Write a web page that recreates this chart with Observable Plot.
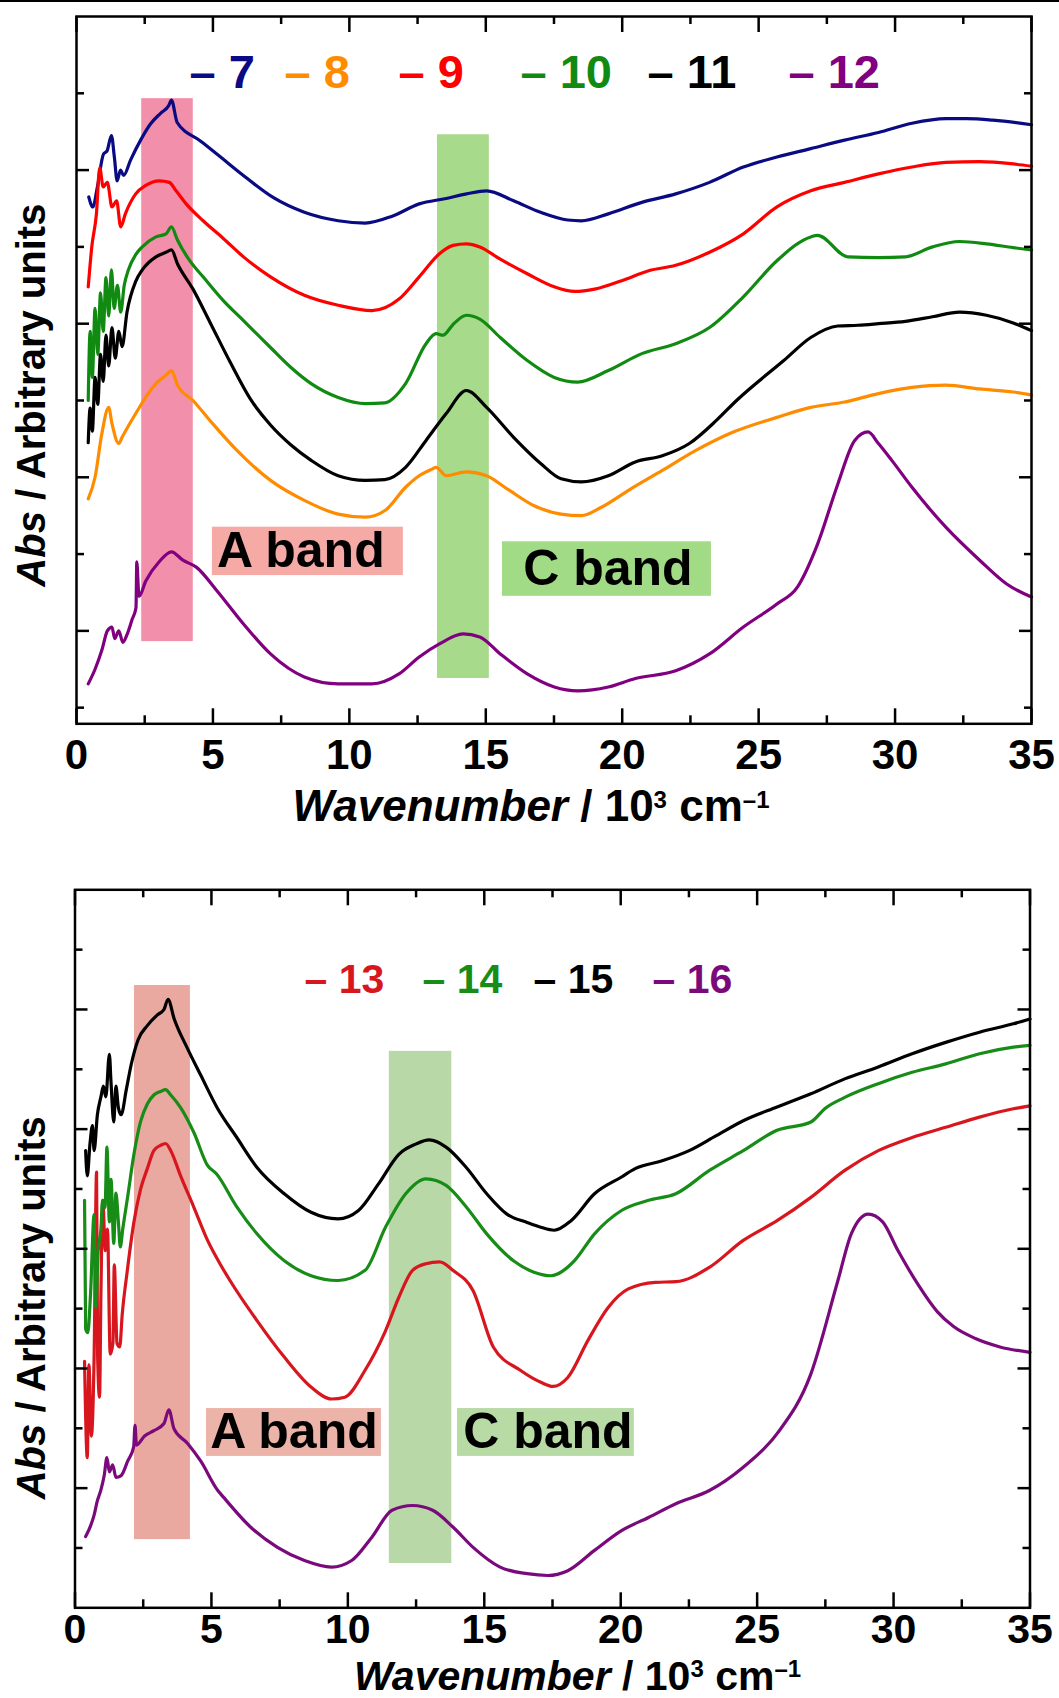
<!DOCTYPE html>
<html><head><meta charset="utf-8">
<script src="https://cdn.jsdelivr.net/npm/d3@7"></script>
<script src="https://cdn.jsdelivr.net/npm/@observablehq/plot@0.6"></script>
<style>
body{margin:0;background:#fff;}
#wrap{position:relative;width:1059px;height:1698px;overflow:hidden;background:#fff;}
#topline{position:absolute;left:0;top:0;width:1059px;height:2px;background:#000;z-index:2;}
svg{display:block;}
</style></head><body><div id="wrap"><div id="topline"></div><div id="p1"></div><div id="p2"></div></div>
<script>
// ---------- shared axis values ----------
const xMajor = [0, 5, 10, 15, 20, 25, 30, 35];
const xMinor = [2.5, 7.5, 12.5, 17.5, 22.5, 27.5, 32.5];

// ---------- upper panel: spectra 7–12 ----------
const names1 = ["7", "8", "9", "10", "11", "12"];
const colors1 = ["#0a0a82", "#ff8c00", "#ff0000", "#118a11", "#000000", "#800080"];
const yMajor1 = [2, 4, 6, 8];
const yMinor1 = [1, 3, 5, 7, 9];

const s7 = [[0.45,7.65],[0.6,7.52],[0.76,7.77],[0.99,8.21],[1.12,8.25],[1.28,8.45],[1.39,8.16],[1.49,7.86],[1.61,8.0],[1.73,7.93],[1.98,8.13],[2.35,8.39],[2.71,8.6],[3.08,8.74],[3.38,8.84],[3.48,8.91],[3.69,8.62],[4.54,8.38],[5.28,8.17],[6.01,7.96],[7.22,7.64],[8.35,7.45],[9.59,7.34],[10.58,7.31],[11.57,7.40],[12.56,7.56],[13.55,7.63],[14.29,7.69],[15.03,7.73],[16.02,7.60],[17.01,7.45],[18.0,7.35],[18.5,7.34],[19.49,7.43],[20.72,7.58],[21.96,7.69],[23.2,7.84],[24.44,8.04],[25.67,8.17],[26.91,8.28],[28.15,8.39],[29.39,8.49],[30.62,8.61],[31.86,8.67],[32.6,8.67],[33.59,8.65],[35.0,8.59]];
const s8 = [[0.43,3.72],[0.68,4.0],[0.93,4.57],[1.18,4.91],[1.30,4.70],[1.55,4.44],[1.67,4.52],[2.17,4.83],[2.91,5.22],[3.28,5.33],[3.48,5.39],[3.7,5.2],[4.27,5.0],[4.89,4.74],[5.88,4.35],[7.11,3.96],[8.35,3.70],[9.59,3.52],[10.58,3.48],[11.32,3.57],[12.06,3.87],[12.56,4.02],[13.05,4.11],[13.18,4.13],[13.55,4.02],[14.29,4.07],[15.03,4.02],[15.78,3.85],[16.77,3.63],[17.76,3.52],[18.50,3.50],[19.24,3.61],[20.23,3.83],[21.47,4.09],[22.70,4.35],[23.94,4.57],[25.67,4.78],[26.91,4.91],[28.15,4.98],[29.39,5.09],[30.62,5.17],[31.86,5.20],[33.10,5.15],[34.33,5.11],[35.0,5.07]];
const s9 = [[0.43,6.48],[0.56,7.0],[0.73,7.43],[0.85,8.03],[0.98,7.78],[1.13,7.84],[1.30,7.52],[1.47,7.60],[1.62,7.26],[1.79,7.43],[2.17,7.69],[2.54,7.80],[3.03,7.86],[3.40,7.84],[3.65,7.73],[4.02,7.56],[4.64,7.34],[5.38,7.11],[6.12,6.87],[7.11,6.61],[8.35,6.37],[9.59,6.24],[10.83,6.17],[11.82,6.32],[12.56,6.61],[13.30,6.91],[13.80,7.02],[14.29,7.04],[14.78,7.00],[15.53,6.84],[16.52,6.65],[17.51,6.48],[18.25,6.42],[18.99,6.45],[19.98,6.56],[20.97,6.69],[21.96,6.76],[23.2,6.93],[24.44,7.17],[25.67,7.52],[26.91,7.73],[28.15,7.84],[29.39,7.95],[30.62,8.04],[31.86,8.10],[33.10,8.11],[34.33,8.08],[35.0,8.05]];
const s10 = [[0.43,5.0],[0.5,5.9],[0.58,5.3],[0.68,6.2],[0.78,5.6],[0.88,6.4],[0.98,5.9],[1.08,6.6],[1.18,6.1],[1.28,6.7],[1.38,6.2],[1.5,6.5],[1.62,6.15],[1.75,6.5],[1.9,6.7],[2.17,6.9],[2.41,7.0],[2.91,7.13],[3.28,7.17],[3.48,7.26],[3.70,7.09],[4.15,6.82],[4.64,6.61],[5.38,6.30],[6.12,6.04],[7.11,5.69],[7.86,5.43],[8.60,5.22],[9.59,5.04],[10.6,4.96],[11.3,4.97],[12.06,5.22],[12.81,5.74],[13.18,5.87],[13.43,5.85],[13.80,5.99],[14.29,6.11],[14.78,6.06],[15.53,5.82],[16.52,5.52],[17.51,5.30],[18.37,5.24],[19.49,5.39],[20.72,5.61],[21.96,5.74],[23.2,5.95],[24.44,6.35],[25.67,6.82],[26.91,7.13],[27.16,7.15],[28.27,6.87],[29.39,6.86],[30.38,6.87],[31.37,7.00],[32.36,7.07],[33.35,7.04],[34.33,6.99],[35.0,6.96]];
const s11 = [[0.43,4.45],[0.5,4.9],[0.58,4.6],[0.68,5.3],[0.78,4.95],[0.88,5.6],[0.98,5.25],[1.08,5.85],[1.18,5.45],[1.3,5.95],[1.42,5.55],[1.55,5.9],[1.67,5.7],[1.85,6.15],[2.17,6.55],[2.41,6.7],[2.91,6.87],[3.28,6.93],[3.48,6.96],[3.70,6.78],[4.27,6.45],[4.89,6.02],[5.63,5.5],[6.37,5.02],[7.11,4.68],[7.86,4.42],[8.60,4.22],[9.59,4.02],[10.58,3.96],[11.3,3.97],[12.06,4.13],[12.81,4.48],[13.55,4.83],[14.29,5.13],[15.03,4.91],[16.02,4.52],[17.01,4.18],[17.76,3.98],[18.50,3.94],[19.49,4.02],[20.48,4.20],[21.47,4.28],[22.46,4.44],[23.45,4.74],[24.19,5.0],[25.92,5.52],[26.91,5.82],[27.90,5.97],[28.64,5.98],[29.39,6.00],[30.38,6.03],[31.37,6.09],[32.36,6.15],[33.35,6.11],[34.33,6.01],[35.0,5.91]];
const s12 = [[0.43,1.31],[0.68,1.5],[0.93,1.75],[1.13,2.0],[1.30,2.05],[1.40,1.9],[1.55,2.0],[1.70,1.85],[1.85,1.95],[2.04,2.15],[2.18,2.3],[2.21,2.9],[2.29,2.45],[2.54,2.65],[3.03,2.9],[3.48,3.03],[3.90,2.92],[4.39,2.83],[5.13,2.53],[6.12,2.09],[7.11,1.70],[8.35,1.40],[9.59,1.31],[10.83,1.31],[11.82,1.44],[12.56,1.66],[13.30,1.83],[14.17,1.96],[14.78,1.92],[15.53,1.70],[16.52,1.44],[17.51,1.27],[18.37,1.22],[19.49,1.27],[20.48,1.38],[21.96,1.48],[23.2,1.70],[24.44,2.05],[25.67,2.35],[26.42,2.57],[27.16,3.13],[27.90,3.91],[28.52,4.48],[29.01,4.59],[29.39,4.44],[29.88,4.22],[30.62,3.87],[31.86,3.35],[33.10,2.92],[34.09,2.61],[35.0,2.44]];

// wavenumber ranges of the highlighted bands (10^3 cm^-1)
const bandNames = ["A band", "C band"];
const bandRange1 = [[2.39, 4.28], [13.23, 15.13]];

// ---------- lower panel: spectra 13–16 ----------
const names2 = ["13", "14", "15", "16"];
const colors2 = ["#d8161e", "#178c17", "#000000", "#7a0a7c"];
const yMajor2 = [2, 4, 6, 8, 10];
const yMinor2 = [1, 3, 5, 7, 9, 11];

const s13 = [[0.35,4.12],[0.45,2.51],[0.51,4.06],[0.60,2.87],[0.70,4.18],[0.79,7.28],[0.83,4.18],[0.90,3.52],[0.95,5.25],[1.02,6.81],[1.11,5.97],[1.19,6.33],[1.29,4.24],[1.39,4.42],[1.44,5.73],[1.54,4.42],[1.64,4.36],[1.73,4.90],[1.91,5.61],[2.16,6.45],[2.40,6.99],[2.65,7.34],[2.89,7.64],[3.14,7.73],[3.32,7.76],[3.51,7.64],[3.87,7.22],[4.36,6.69],[4.85,6.15],[5.34,5.73],[5.68,5.47],[6.67,4.80],[7.67,4.19],[8.65,3.69],[9.40,3.49],[9.89,3.52],[10.63,3.97],[11.38,4.63],[11.87,5.19],[12.37,5.64],[12.86,5.75],[13.36,5.78],[13.85,5.64],[14.59,5.30],[15.33,4.36],[16.32,3.97],[17.07,3.77],[17.51,3.70],[18.06,3.85],[18.80,4.47],[19.54,5.02],[20.28,5.33],[21.27,5.44],[22.02,5.45],[23.25,5.69],[24.49,6.14],[25.73,6.47],[26.97,6.86],[28.21,7.31],[29.44,7.64],[30.68,7.86],[31.91,8.03],[33.15,8.20],[34.39,8.34],[35.0,8.39]];
const s14 = [[0.35,6.81],[0.39,4.66],[0.47,4.60],[0.57,5.25],[0.70,6.57],[0.76,5.02],[0.85,5.97],[0.95,6.33],[1.01,6.81],[1.10,6.69],[1.17,7.70],[1.26,6.45],[1.32,7.16],[1.42,6.09],[1.50,6.93],[1.59,6.45],[1.66,6.03],[1.75,6.33],[1.93,6.87],[2.16,7.58],[2.40,8.12],[2.65,8.42],[2.89,8.57],[3.14,8.63],[3.32,8.66],[3.51,8.57],[3.87,8.36],[4.36,7.94],[4.85,7.40],[5.19,7.25],[5.93,6.70],[6.67,6.25],[7.67,5.80],[8.65,5.55],[9.64,5.47],[10.63,5.64],[11.38,6.36],[12.12,6.92],[12.86,7.17],[13.60,7.06],[14.34,6.70],[15.09,6.25],[16.07,5.80],[16.82,5.61],[17.44,5.55],[18.30,5.80],[19.04,6.25],[20.03,6.64],[21.02,6.81],[22.02,6.92],[23.25,7.31],[24.49,7.64],[25.73,7.98],[26.97,8.12],[27.5,8.35],[28.21,8.53],[29.44,8.76],[30.68,8.95],[31.91,9.09],[33.15,9.26],[34.39,9.37],[35.0,9.40]];
const s15 = [[0.39,7.64],[0.45,7.22],[0.55,7.76],[0.64,8.06],[0.70,7.64],[0.82,8.24],[0.95,8.54],[1.04,8.72],[1.13,8.54],[1.26,9.25],[1.32,8.78],[1.42,8.12],[1.50,8.72],[1.59,8.36],[1.69,8.24],[1.88,8.66],[2.06,9.08],[2.31,9.49],[2.65,9.73],[3.02,9.91],[3.26,10.0],[3.41,10.17],[3.63,9.85],[4.12,9.35],[4.61,8.9],[5.22,8.35],[5.93,7.86],[6.67,7.36],[7.67,6.92],[8.65,6.61],[9.64,6.50],[10.39,6.64],[11.13,7.09],[11.87,7.58],[12.49,7.75],[12.98,7.82],[13.60,7.70],[14.34,7.36],[15.09,6.92],[15.83,6.58],[16.57,6.44],[17.07,6.36],[17.56,6.31],[18.18,6.47],[19.04,6.92],[20.03,7.20],[20.53,7.34],[21.52,7.47],[22.51,7.64],[23.50,7.89],[24.49,8.14],[25.73,8.37],[26.97,8.59],[28.21,8.84],[29.44,9.04],[30.68,9.26],[31.91,9.45],[33.15,9.62],[34.39,9.76],[35.0,9.84]];
const s16 = [[0.39,1.19],[0.57,1.37],[0.70,1.55],[0.82,1.79],[0.95,1.97],[1.07,2.21],[1.17,2.51],[1.26,2.27],[1.38,2.39],[1.50,2.18],[1.69,2.21],[1.93,2.45],[2.15,2.69],[2.20,3.05],[2.25,2.72],[2.55,2.87],[2.89,2.96],[3.26,3.08],[3.44,3.31],[3.63,2.99],[4.12,2.75],[4.61,2.45],[5.22,1.97],[5.44,1.85],[6.43,1.35],[7.42,1.01],[8.41,0.79],[9.40,0.68],[10.14,0.79],[10.88,1.18],[11.62,1.63],[12.37,1.71],[13.11,1.63],[13.85,1.35],[14.59,1.01],[15.58,0.68],[16.57,0.57],[17.32,0.54],[18.06,0.62],[19.04,0.96],[20.03,1.29],[21.02,1.51],[22.02,1.74],[23.25,1.96],[24.49,2.35],[25.73,2.91],[26.97,3.91],[27.96,5.47],[28.45,6.25],[29.07,6.58],[29.6,6.45],[30.15,5.98],[30.9,5.4],[31.6,4.95],[32.2,4.7],[33.0,4.5],[33.9,4.36],[35.0,4.27]];

const bandRange2 = [[2.18, 4.23], [11.52, 13.81]];

// ---------- drawing ----------
const FONT = "'Liberation Sans', Arial, Helvetica, sans-serif";
const XTITLE = "Wavenumber / 10 3 cm -1";
const YTITLE = "Abs / Arbitrary units";

function toRows(series, names) {
  return series.flatMap((s, i) => s.map(([x, y]) => ({x, y, id: names[i]})));
}

function panel(cfg) {
  const W = 1059;
  const {H, mt, mb, ml, mr} = cfg;
  const iw = W - ml - mr, ih = H - mt - mb;
  const lw = 2.5;
  const marks = [];
  // highlighted bands
  cfg.bands.forEach((b, i) => {
    marks.push(Plot.rect([b], {x1: d => d[0], x2: d => d[1], y1: cfg.bandY[i][0], y2: cfg.bandY[i][1], fill: cfg.bandFill[i]}));
  });
  // band label boxes
  bandNames.forEach((name, i) => {
    const bx = cfg.boxX[i], by = cfg.boxY[i];
    marks.push(Plot.rect([name], {x1: bx[0], x2: bx[1], y1: by[0], y2: by[1], fill: cfg.boxFill[i]}));
    marks.push(Plot.text([name], {x: (bx[0] + bx[1]) / 2, y: (by[0] + by[1]) / 2, dx: cfg.boxTextDx[i], text: d => d,
      fontSize: 50, fontWeight: "bold", fill: "black", lineAnchor: "middle"}));
  });
  // spectra
  marks.push(Plot.line(cfg.rows, {x: "x", y: "y", z: "id", stroke: "id", strokeWidth: 3.2,
    curve: "monotone-x", strokeLinejoin: "round"}));
  // frame
  marks.push(Plot.frame({stroke: "black", strokeWidth: lw}));
  // inward ticks
  marks.push(Plot.tickX(xMajor, {x: d => d, insetTop: ih - 15, stroke: "black", strokeWidth: lw}));
  marks.push(Plot.tickX(xMinor, {x: d => d, insetTop: ih - 8, stroke: "black", strokeWidth: lw}));
  marks.push(Plot.tickX(xMajor, {x: d => d, insetBottom: ih - 16, stroke: "black", strokeWidth: lw}));
  marks.push(Plot.tickX(xMinor, {x: d => d, insetBottom: ih - 8, stroke: "black", strokeWidth: lw}));
  marks.push(Plot.tickY(cfg.yMajor, {y: d => d, insetRight: iw - 13, stroke: "black", strokeWidth: lw}));
  marks.push(Plot.tickY(cfg.yMinor, {y: d => d, insetRight: iw - 8, stroke: "black", strokeWidth: lw}));
  marks.push(Plot.tickY(cfg.yMajor, {y: d => d, insetLeft: iw - 12, stroke: "black", strokeWidth: lw}));
  marks.push(Plot.tickY(cfg.yMinor, {y: d => d, insetLeft: iw - 7, stroke: "black", strokeWidth: lw}));
  // tick labels
  marks.push(Plot.text(xMajor, {x: d => d, text: d => String(d), frameAnchor: "bottom", lineAnchor: "top",
    dy: cfg.labelDy, fontSize: cfg.labelSize, fontWeight: "bold", fill: "black"}));
  // legend
  cfg.names.forEach((n, i) => {
    marks.push(Plot.text([n], {frameAnchor: "top-left", textAnchor: "start", lineAnchor: "top",
      dx: cfg.legendDx[i], dy: cfg.legendDy, text: d => "\u2013 " + d, fontSize: cfg.legendSize,
      fontWeight: "bold", fill: cfg.colors[i]}));
  });
  // axis titles (rich text filled in below)
  marks.push(Plot.text([XTITLE], {frameAnchor: "bottom", lineAnchor: "top", textAnchor: "middle", dx: cfg.xtDx, dy: cfg.xtDy,
    text: d => d, fontSize: cfg.xtSize, fontWeight: "bold", fill: "black"}));
  marks.push(Plot.text([YTITLE], {frameAnchor: "left", rotate: -90, lineAnchor: "middle", textAnchor: "middle",
    dx: cfg.ytDx, dy: cfg.ytDy, text: d => d, fontSize: 40, fontWeight: "bold", fill: "black"}));

  const svg = Plot.plot({
    width: W, height: H, marginTop: mt, marginBottom: mb, marginLeft: ml, marginRight: mr,
    x: {domain: [0, 35], axis: null},
    y: {domain: cfg.yDomain, axis: null},
    color: {domain: cfg.names, range: cfg.colors},
    style: {fontFamily: FONT, background: "white", overflow: "visible"},
    marks
  });
  // rich text for titles
  const texts = d3.select(svg).selectAll("text");
  const xt = texts.filter(function() { return this.textContent === XTITLE; });
  xt.text(null);
  xt.append("tspan").attr("font-style", "italic").text("Wavenumber");
  xt.append("tspan").text(" / 10");
  xt.append("tspan").attr("baseline-shift", "super").attr("font-size", "24px").text("3");
  xt.append("tspan").text(" cm");
  xt.append("tspan").attr("baseline-shift", "super").attr("font-size", "24px").text("\u20131");
  const yt = texts.filter(function() { return this.textContent === YTITLE; });
  yt.text(null);
  yt.append("tspan").attr("font-style", "italic").text("Abs");
  yt.append("tspan").text(" / Arbitrary units");
  return svg;
}

const p1 = panel({
  H: 850, mt: 16, mb: 126.7, ml: 76, mr: 28,
  yDomain: [0.79, 10], yMajor: yMajor1, yMinor: yMinor1,
  names: names1, colors: colors1,
  rows: toRows([s7, s8, s9, s10, s11, s12], names1),
  bands: bandRange1, bandY: [[1.86, 8.93], [1.38, 8.46]], bandFill: ["#f28faa", "#a8da8c"],
  boxX: [[4.98, 11.98], [15.61, 23.27]], boxY: [[2.72, 3.35], [2.45, 3.16]], boxFill: ["#f5aaa5", "#a2db86"],
  boxTextDx: [-7, 1],
  labelDy: 15, labelSize: 42, legendDx: [113, 208, 322, 444, 571, 712], legendDy: 38, legendSize: 47,
  xtDx: -23, xtDy: 66, xtSize: 44, ytDx: -44, ytDy: 25
});
document.getElementById("p1").appendChild(p1);

const p2 = panel({
  H: 848, mt: 39.3, mb: 90.7, ml: 74.5, mr: 29.5,
  yDomain: [0, 12], yMajor: yMajor2, yMinor: yMinor2,
  names: names2, colors: colors2,
  rows: toRows([s13, s14, s15, s16], names2),
  bands: bandRange2, bandY: [[1.14, 10.40], [0.74, 9.30]], bandFill: ["#e9a8a0", "#b8d8a8"],
  boxX: [[4.82, 11.23], [14.02, 20.50]], boxY: [[2.53, 3.33], [2.53, 3.33]], boxFill: ["#ecb4a8", "#b8dba6"],
  boxTextDx: [0, 2],
  labelDy: 6, labelSize: 41, legendDx: [229.5, 347.5, 458.5, 577.5], legendDy: 74, legendSize: 41,
  xtDx: 25, xtDy: 52.6, xtSize: 41, ytDx: -42.5, ytDy: 59
});
document.getElementById("p2").appendChild(p2);
</script>
</body></html>
